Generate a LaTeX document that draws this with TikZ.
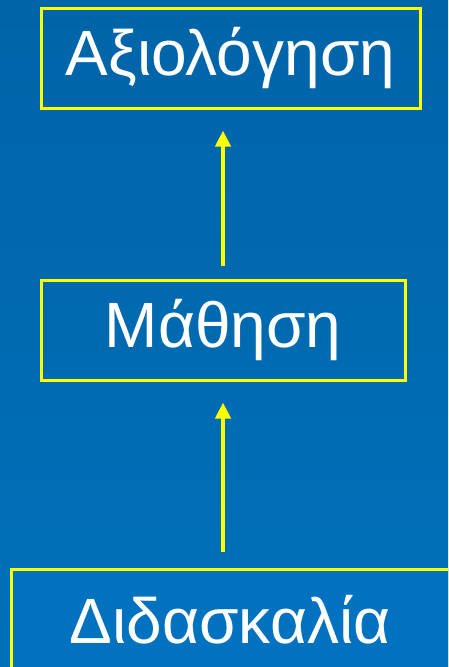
\documentclass[tikz,border=0pt]{standalone}
\usepackage{fontspec}
\setmainfont{Liberation Sans}
\usetikzlibrary{arrows.meta}
\definecolor{bgtop}{RGB}{0,100,168}
\definecolor{bgbot}{RGB}{0,112,186}
\definecolor{boxfill}{RGB}{0,114,192}
\definecolor{yel}{RGB}{255,255,0}
\tikzset{
  box/.style={draw=yel, line width=3pt, text=white, inner sep=0pt, outer sep=0pt,
    font=\fontsize{64}{70}\selectfont, minimum height=100pt},
  arr/.style={draw=yel, line width=4pt, -{Triangle[length=16pt,width=15pt]}}
}
\begin{document}
\begin{tikzpicture}[x=1pt,y=-1pt]
\useasboundingbox (0,0) rectangle (448,667);
\clip (0,0) rectangle (448,667);
\shade[top color=bgtop, bottom color=bgbot] (0,0) rectangle (448,667);
\node[box, minimum width=379pt] (top) at (230.5,58.5) {Αξιολόγηση};
\node[box, minimum width=364pt] (mid) at (223,330.5) {Μάθηση};
\node[box, fill=boxfill, minimum width=438pt, minimum height=101pt] (bot) at (230,619.5) {Διδασκαλία};
\draw[arr, shorten <=15pt, shorten >=22pt] (mid.north) -- (mid.north |- top.south);
\draw[arr, shorten <=17pt, shorten >=22pt] (bot.north -| mid.south) -- (mid.south);
\end{tikzpicture}
\end{document}
